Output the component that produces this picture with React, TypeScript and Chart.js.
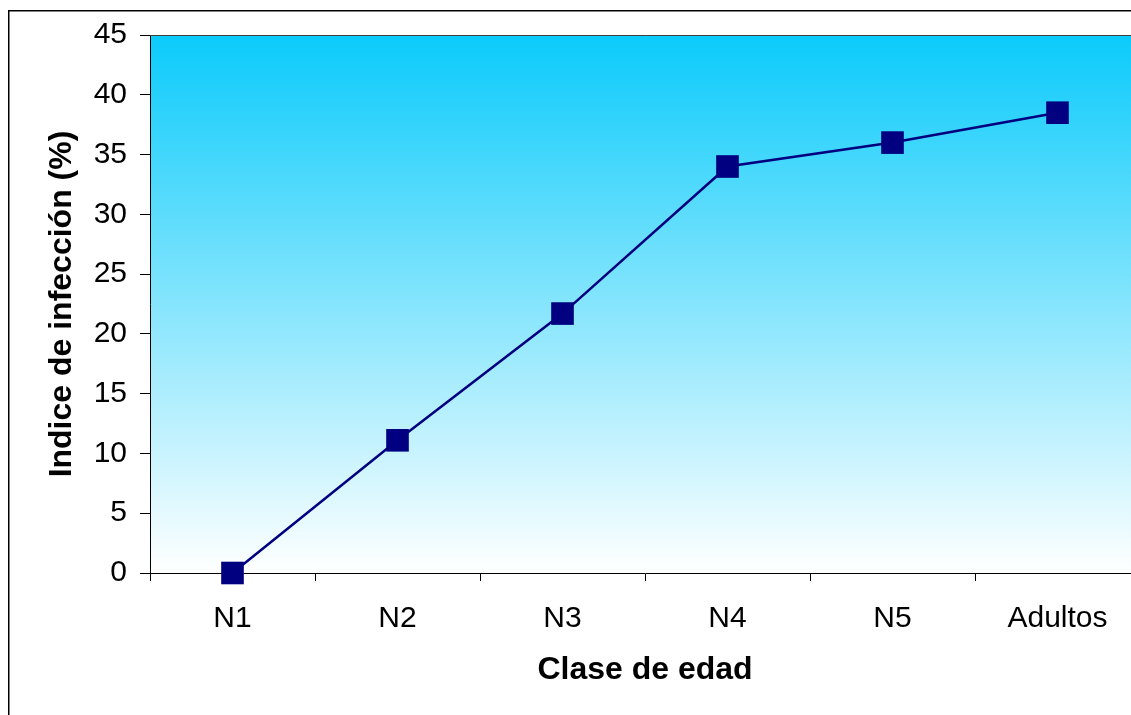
import React, { useEffect, useRef } from "react";
import { Chart, registerables } from "chart.js";

Chart.register(...registerables);

const categories: string[] = ["N1", "N2", "N3", "N4", "N5", "Adultos"];
const infectionValues: number[] = [0, 11.1, 21.7, 34.0, 36.0, 38.5];
const yTicks: number[] = [0, 5, 10, 15, 20, 25, 30, 35, 40, 45];

const xTitle = "Clase de edad";
const yTitle = "Indice de infección (%)";

const FONT = '"Liberation Sans", Arial, Helvetica, sans-serif';

const backgroundPlugin = {
  id: "bgGradient",
  beforeDraw(chart: any) {
    const { ctx, chartArea } = chart;
    if (!chartArea) return;
    const { left, top, right, bottom } = chartArea;
    ctx.save();
    const g = ctx.createLinearGradient(0, top, 0, bottom);
    g.addColorStop(0, "#0BCBFB");
    g.addColorStop(1, "#FFFFFF");
    ctx.fillStyle = g;
    ctx.fillRect(left, top, right - left, bottom - top);
    ctx.restore();
  },
  afterDraw(chart: any) {
    const { ctx, chartArea } = chart;
    const { left, top, right, bottom } = chartArea;
    ctx.save();
    ctx.strokeStyle = "#404040";
    ctx.lineWidth = 1;
    ctx.beginPath();
    ctx.moveTo(left, top + 0.5);
    ctx.lineTo(right + 0.5, top + 0.5);
    ctx.lineTo(right + 0.5, bottom);
    ctx.stroke();
    ctx.strokeStyle = "#000000";
    ctx.lineWidth = 1.5;
    ctx.strokeRect(8.75, 10.75, 1200, 800);
    ctx.restore();
  },
};

export default function App() {
  const canvasRef = useRef<HTMLCanvasElement | null>(null);

  useEffect(() => {
    const canvas = canvasRef.current;
    if (!canvas) return;
    const chart = new Chart(canvas, {
      type: "line",
      data: {
        labels: categories,
        datasets: [
          {
            data: infectionValues,
            borderColor: "#000080",
            borderWidth: 2.5,
            backgroundColor: "#000080",
            pointStyle: "rect",
            pointRadius: 16,
            pointHoverRadius: 16,
            pointBackgroundColor: "#000080",
            pointBorderColor: "#000080",
            pointBorderWidth: 0,
            tension: 0,
            fill: false,
            clip: false as any,
          },
        ],
      },
      options: {
        responsive: false,
        animation: false,
        events: [],
        layout: { padding: { top: 35, right: 20, left: 0, bottom: 0 } },
        plugins: {
          legend: { display: false },
          tooltip: { enabled: false },
          title: { display: false },
        },
        scales: {
          x: {
            type: "category",
            offset: true,
            afterFit(scale: any) {
              scale.height = 142;
            },
            grid: {
              offset: true,
              drawOnChartArea: false,
              drawTicks: true,
              tickLength: 8,
              color: "#000000",
            },
            border: { display: true, color: "#000000", width: 1 },
            ticks: {
              color: "#000000",
              font: { family: FONT, size: 30 },
              padding: 20,
              maxRotation: 0,
              autoSkip: false,
            },
            title: {
              display: true,
              text: xTitle,
              color: "#000000",
              font: { family: FONT, size: 32, weight: "bold" },
              padding: { top: 0, bottom: 26 },
            },
          },
          y: {
            type: "linear",
            min: 0,
            max: 45,
            afterFit(scale: any) {
              scale.width = 150;
            },
            afterBuildTicks(scale: any) {
              scale.ticks = yTicks.map((v) => ({ value: v }));
            },
            grid: {
              drawOnChartArea: false,
              drawTicks: true,
              tickLength: 10,
              color: "#000000",
            },
            border: { display: true, color: "#000000", width: 1 },
            ticks: {
              color: "#000000",
              font: { family: FONT, size: 30 },
              padding: 13,
              stepSize: 5,
            },
            title: {
              display: true,
              text: yTitle,
              color: "#000000",
              font: { family: FONT, size: 32, weight: "bold" },
              padding: { top: 43, bottom: 0 },
            },
          },
        },
      },
      plugins: [backgroundPlugin],
    });
    return () => chart.destroy();
  }, []);

  return (
    <div
      style={{
        position: "absolute",
        left: 0,
        top: 0,
        width: 1131,
        height: 715,
        overflow: "hidden",
        background: "#ffffff",
      }}
    >
      <canvas ref={canvasRef} width={1160} height={715} style={{ display: "block" }} />
    </div>
  );
}
